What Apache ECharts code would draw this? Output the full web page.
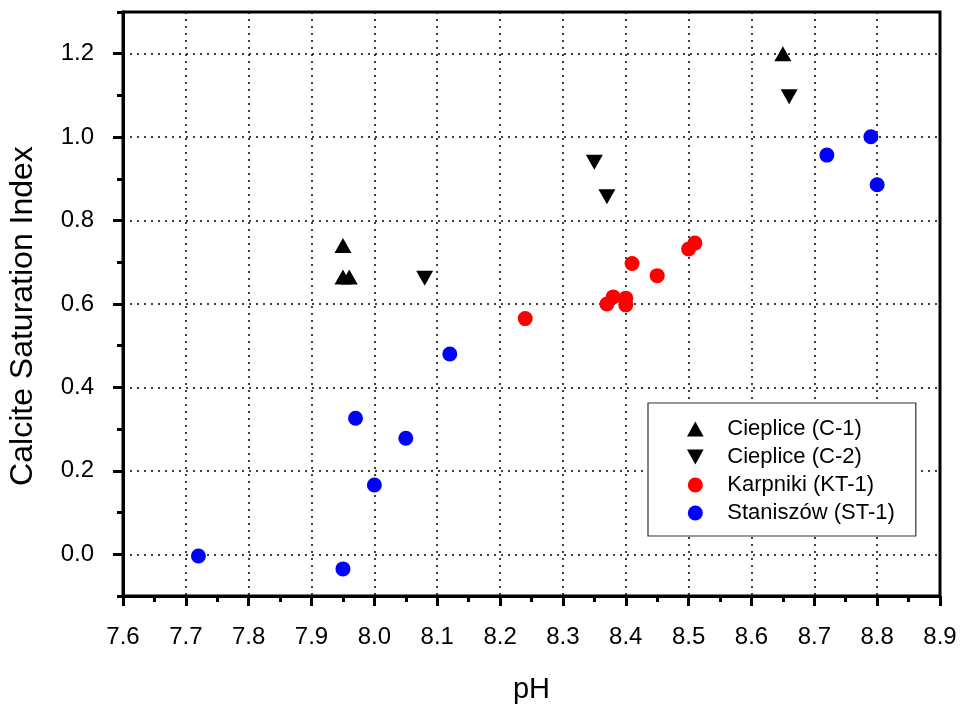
<!DOCTYPE html>
<html>
<head>
<meta charset="utf-8">
<script src="https://cdn.jsdelivr.net/npm/echarts@6/dist/echarts.min.js"></script>
<style>
html,body{margin:0;padding:0;background:#fff;}
#c{width:961px;height:705px;}
</style>
</head>
<body>
<div id="c"></div>
<script>
// ---- data ----
const c1_ph = [7.95, 7.95, 7.96, 8.65];
const c1_si = [0.74, 0.665, 0.665, 1.20];
const c2_ph = [8.08, 8.35, 8.37, 8.66];
const c2_si = [0.662, 0.94, 0.857, 1.097];
const kt_ph = [8.24, 8.37, 8.38, 8.40, 8.40, 8.41, 8.45, 8.50, 8.51];
const kt_si = [0.565, 0.600, 0.617, 0.614, 0.598, 0.697, 0.668, 0.732, 0.746];
const st_ph = [7.72, 7.95, 8.00, 7.97, 8.05, 8.12, 8.72, 8.79, 8.80];
const st_si = [-0.004, -0.035, 0.166, 0.326, 0.278, 0.48, 0.957, 1.001, 0.886];
const yMajor = [0.0, 0.2, 0.4, 0.6, 0.8, 1.0, 1.2];
const seriesNames = ['Cieplice (C-1)', 'Cieplice (C-2)', 'Karpniki (KT-1)', 'Staniszów (ST-1)'];

const zip = (a, b) => a.map((v, i) => [v, b[i]]);
const FONT = "Arial, 'Liberation Sans', sans-serif";
const downTri = 'path://M0,0 L2,0 L1,1.8 Z';
const upTri = 'path://M1,0 L2,1.8 L0,1.8 Z';

const chart = echarts.init(document.getElementById('c'), null, {renderer: 'canvas'});
chart.setOption({
  backgroundColor: '#fff',
  animation: false,
  grid: {left: 123, right: 21, top: 12, bottom: 109, show: true, borderColor: '#000', borderWidth: 3, backgroundColor: 'transparent', containLabel: false, outerBoundsMode: 'none'},
  legend: {
    orient: 'vertical',
    left: 648, top: 403,
    padding: [15, 21, 12, 39],
    itemGap: 6,
    itemWidth: 54, itemHeight: 15,
    backgroundColor: '#fff',
    borderColor: '#333', borderWidth: 1.2,
    textStyle: {fontFamily: FONT, fontSize: 22, color: '#000', lineHeight: 21},
    data: seriesNames
  },
  xAxis: {
    type: 'value', min: 7.6, max: 8.9, interval: 0.1,
    name: 'pH', nameLocation: 'middle', nameGap: 79,
    nameTextStyle: {fontFamily: FONT, fontSize: 29, color: '#000'},
    axisLine: {show: true, onZero: false, lineStyle: {color: '#000', width: 3}},
    axisTick: {show: true, inside: false, length: 10, lineStyle: {color: '#000', width: 3}},
    minorTick: {show: true, splitNumber: 2, length: 6, lineStyle: {color: '#000', width: 3}},
    axisLabel: {fontFamily: FONT, fontSize: 24, color: '#000', margin: 29, formatter: v => v.toFixed(1)},
    splitLine: {show: true, lineStyle: {color: '#000', width: 1.5, type: [2, 5]}}
  },
  yAxis: [{
    type: 'value', min: -0.1, max: 1.3,
    name: 'Calcite Saturation Index', nameLocation: 'middle', nameGap: 84,
    nameTextStyle: {fontFamily: FONT, fontSize: 32, color: '#000', padding: [0, 24, 0, 0]},
    axisLine: {show: true, onZero: false, lineStyle: {color: '#000', width: 3}},
    axisTick: {show: true, inside: false, length: 10, customValues: yMajor, lineStyle: {color: '#000', width: 3}},
    axisLabel: {fontFamily: FONT, fontSize: 24, color: '#000', margin: 29, customValues: yMajor, formatter: v => v.toFixed(1)},
    splitLine: {show: true, lineStyle: {color: '#000', width: 1.5, type: [2, 5]}}
  }, {
    type: 'value', min: -0.1, max: 1.3, interval: 0.1, position: 'left', offset: 0,
    axisLine: {show: false},
    axisTick: {show: true, inside: false, length: 6, lineStyle: {color: '#000', width: 3}},
    axisLabel: {show: false},
    splitLine: {show: false}
  }],
  series: [
    {name: seriesNames[0], type: 'scatter', symbol: upTri, symbolSize: [17, 15], itemStyle: {color: '#000', opacity: 1}, data: zip(c1_ph, c1_si), z: 5},
    {name: seriesNames[1], type: 'scatter', symbol: downTri, symbolSize: [17, 15], itemStyle: {color: '#000', opacity: 1}, data: zip(c2_ph, c2_si), z: 5},
    {name: seriesNames[2], type: 'scatter', symbol: 'circle', symbolSize: 15, itemStyle: {color: '#FF0000', opacity: 1}, data: zip(kt_ph, kt_si), z: 5},
    {name: seriesNames[3], type: 'scatter', symbol: 'circle', symbolSize: 15, itemStyle: {color: '#0000FF', opacity: 1}, data: zip(st_ph, st_si), z: 5}
  ]
});
</script>
</body>
</html>
